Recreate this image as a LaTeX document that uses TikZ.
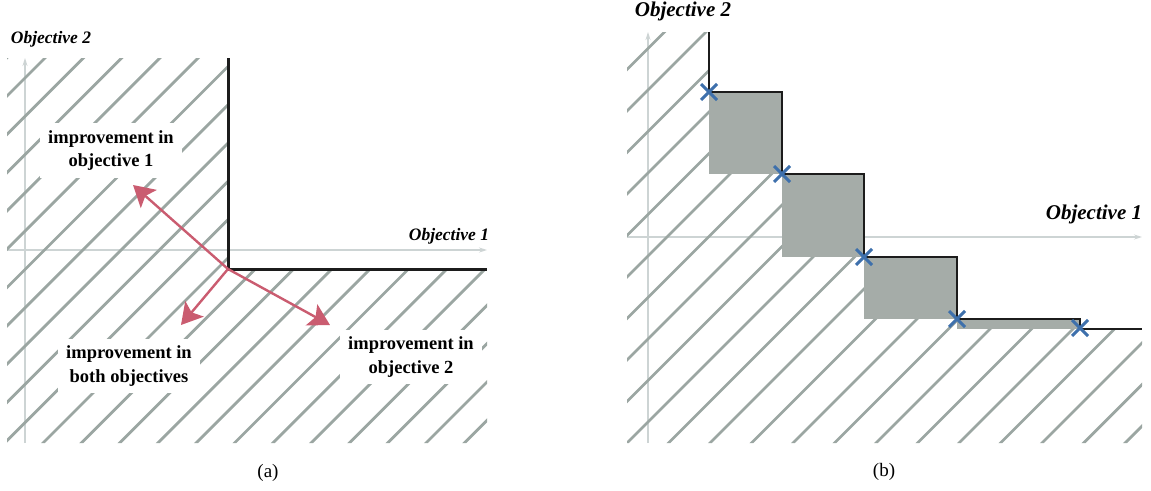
\documentclass[tikz,border=0pt]{standalone}
\usepackage{fontspec}
\setmainfont{Liberation Serif}
\usetikzlibrary{arrows.meta,shapes.misc}
\definecolor{hatchc}{RGB}{155,166,162}
\definecolor{boxc}{RGB}{165,172,168}
\definecolor{axisc}{RGB}{205,212,212}
\definecolor{arrc}{RGB}{202,92,112}
\definecolor{xc}{RGB}{62,112,172}
\definecolor{linec}{RGB}{28,28,28}
\begin{document}
\begin{tikzpicture}[x=1pt,y=-1pt,
  hatch/.style={draw=hatchc,line width=2.8pt},
  axis/.style={draw=axisc,line width=1.1pt,-{Stealth[length=8pt,width=5pt]}},
  fronta/.style={draw=linec,line width=3pt},
  frontb/.style={draw=linec,line width=2.2pt},
  imp/.style={draw=arrc,line width=2.4pt,-{Stealth[length=21pt,width=24pt,inset=4.5pt]}},
  lab/.style={fill=white,font=\fontsize{18.5}{23.5}\selectfont\bfseries,align=center,inner xsep=8pt,inner ysep=7pt},
  obja/.style={font=\fontsize{17.5}{20}\selectfont\bfseries\itshape,anchor=base,inner sep=0pt},
  objb/.style={font=\fontsize{21}{24}\selectfont\bfseries\itshape,anchor=base,inner sep=0pt},
  capt/.style={font=\fontsize{19}{22}\selectfont,inner sep=0pt},
  gbox/.style={fill=boxc},
  xmark/.style={cross out,draw=xc,line width=3pt,minimum size=13pt,inner sep=0pt}]
\useasboundingbox (0,0) rectangle (1151,490);
% ---------------- panel (a) ----------------
\coordinate (a0) at (25,443);
\coordinate (a2) at (25,58);
\coordinate (a3) at (7,250);
\coordinate (a1) at (487,250);
\draw[axis] (a0) -- (a2);
\draw[axis] (a3) -- (a1);
\begin{scope}
  \clip (7,58) -- (228,58) -- (228,269) -- (487,269) -- (487,443) -- (7,443) -- cycle;
  \foreach \k in {-2,...,23}
    \draw[hatch] ({103+38.3*\k-470},470) -- ({103+38.3*\k-40},40);
\end{scope}
\coordinate (ftop) at (228,58);
\coordinate (c) at (228,269);
\coordinate (fright) at (487,269);
\draw[fronta] (ftop) -- (c) -- (fright);
\node[obja] (oa2) at (51,43) {Objective 2};
\node[obja] (oa1) at (449,240) {Objective 1};
\node[lab] (l1) at (111,150.5) {improvement in\\objective 1};
\node[lab] (l2) at (129,366) {improvement in\\both objectives};
\node[lab] (l3) at (411,357) {improvement in\\objective 2};
\coordinate (t1) at (133,185);
\coordinate (t2) at (181,325);
\coordinate (t3) at (330,325);
\draw[imp] (c) -- (t1);
\draw[imp] (c) -- (t2);
\draw[imp] (c) -- (t3);
\node[capt] (capa) at (268,473) {(a)};
% ---------------- panel (b) ----------------
\coordinate (b0) at (648,443);
\coordinate (b2) at (648,32);
\coordinate (b3) at (627,237);
\coordinate (b1) at (1142,237);
\draw[axis] (b0) -- (b2);
\draw[axis] (b3) -- (b1);
\begin{scope}
  \clip (627,32) -- (709,32) -- (709,174) -- (782,174) -- (782,257) -- (864,257)
        -- (864,319) -- (957,319) -- (957,329) -- (1142,329) -- (1142,443) -- (627,443) -- cycle;
  \foreach \k in {-11,...,14}
    \draw[hatch] ({1070+41.5*\k-470},470) -- ({1070+41.5*\k-20},20);
\end{scope}
\coordinate (p1) at (709,92);
\coordinate (p2) at (782,174);
\coordinate (p3) at (864,257);
\coordinate (p4) at (957,319);
\coordinate (p5) at (1080,329);
\fill[gbox] (p1) rectangle (p2);
\fill[gbox] (p2) rectangle (p3);
\fill[gbox] (p3) rectangle (p4);
\fill[gbox] (p4) rectangle (p5);
\coordinate (btop) at (709,32);
\coordinate (bend) at (1142,329);
\draw[frontb] (btop) -- (p1) -| (p2) -| (p3) -| (p4) -| (p5) -- (bend);
\node[xmark] (x1) at (709,92) {};
\node[xmark] (x2) at (782,174) {};
\node[xmark] (x3) at (864,257) {};
\node[xmark] (x4) at (957,319) {};
\node[xmark] (x5) at (1080,328) {};
\node[objb] (ob2) at (683,16) {Objective 2};
\node[objb] (ob1) at (1094,219) {Objective 1};
\node[capt] (capb) at (884,472) {(b)};
\end{tikzpicture}
\end{document}
